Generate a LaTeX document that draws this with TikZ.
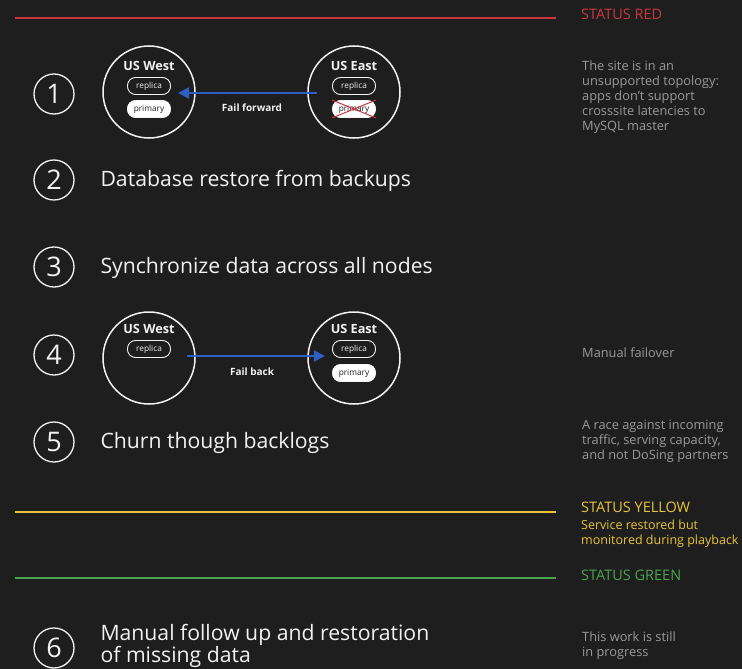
\documentclass[tikz,border=0pt]{standalone}
\usepackage{fontspec}
\setmainfont{Open Sans}
\usetikzlibrary{arrows.meta}
\definecolor{bg}{HTML}{1E1E1E}
\definecolor{sred}{HTML}{C9363F}
\definecolor{syellow}{HTML}{E8C43A}
\definecolor{sgreen}{HTML}{4CA34E}
\definecolor{note}{HTML}{9A9A9A}
\definecolor{arrowblue}{HTML}{2E5FC4}
\definecolor{fg}{HTML}{F2F2F2}
\begin{document}
\begin{tikzpicture}[x=1pt,y=-1pt,
  numcirc/.style={circle,draw=fg,line width=1.3pt,minimum size=40pt,inner sep=0pt,text=fg,font=\fontsize{27}{27}\selectfont},
  steptext/.style={anchor=west,text=fg,font=\fontsize{21.2}{22.5}\selectfont,align=left},
  site/.style={circle,draw=fg,line width=1.5pt,minimum size=92pt,inner sep=0pt},
  sitelabel/.style={text=fg,font=\bfseries\fontsize{12.7}{13}\selectfont},
  pill/.style={rounded corners=8pt,draw=fg,line width=0.9pt,minimum width=43pt,minimum height=17pt,inner sep=0pt,text=fg,font=\fontsize{8.3}{9}\selectfont},
  pillfill/.style={pill,fill=white,text=bg},
  failarrow/.style={draw=arrowblue,line width=2pt,-{Triangle[length=11pt,width=11pt]}},
  faillabel/.style={text=fg,font=\bfseries\fontsize{10}{11}\selectfont},
  notetext/.style={anchor=north west,text=note,font=\fontsize{12.8}{15}\selectfont,align=left,inner sep=0pt},
  statustext/.style={anchor=west,font=\fontsize{14.5}{15}\selectfont,inner sep=0pt},
  statusline/.style={line width=2pt}]
\fill[bg] (0,0) rectangle (742,669);
\useasboundingbox (0,0) rectangle (742,669);

% status red
\coordinate (r1) at (15,18); \coordinate (r2) at (556,18);
\draw[statusline,sred] (r1) -- (r2);
\node[statustext,text=sred] (sred) at (581,14) {STATUS RED};

% step 1
\node[numcirc] (n1) at (54,94) {1};
\node[site] (w1) at (149,92) {};
\node[sitelabel] (w1l) at (149,66) {US West};
\node[pill] (w1r) at (149,86) {replica};
\node[pillfill] (w1p) at (149,109) {primary};
\node[site] (e1) at (354,92) {};
\node[sitelabel] (e1l) at (354,66) {US East};
\node[pill] (e1r) at (354,86) {replica};
\node[pillfill] (e1p) at (354,109) {primary};
\draw[sred,line width=1pt] (e1p.north west) -- (e1p.south east);
\draw[sred,line width=1pt] (e1p.south west) -- (e1p.north east);
\coordinate (a1s) at (317,93); \coordinate (a1e) at (178,93);
\draw[failarrow] (a1s) -- (a1e);
\node[faillabel] (ff) at (252,108) {Fail forward};
\node[notetext] (note1) at (582,61) {The site is in an\\unsupported topology:\\apps don’t support\\crosssite latencies to\\MySQL master};

% step 2
\node[numcirc] (n2) at (54,180) {2};
\node[steptext] (t2) at (97,181) {Database restore from backups};

% step 3
\node[numcirc] (n3) at (54,267) {3};
\node[steptext] (t3) at (97,268) {Synchronize data across all nodes};

% step 4
\node[numcirc] (n4) at (54,355) {4};
\node[site] (w4) at (149,358) {};
\node[sitelabel] (w4l) at (149,329) {US West};
\node[pill] (w4r) at (149,349) {replica};
\node[site] (e4) at (354,358) {};
\node[sitelabel] (e4l) at (354,329) {US East};
\node[pill] (e4r) at (354,349) {replica};
\node[pillfill] (e4p) at (354,373) {primary};
\coordinate (a4s) at (187,356); \coordinate (a4e) at (325,356);
\draw[failarrow] (a4s) -- (a4e);
\node[faillabel] (fb) at (252,372) {Fail back};
\node[notetext] (note4) at (582,348) {Manual failover};

% step 5
\node[numcirc] (n5) at (54,442) {5};
\node[steptext] (t5) at (97,443) {Churn though backlogs};
\node[notetext] (note5) at (582,420) {A race against incoming\\traffic, serving capacity,\\and not DoSing partners};

% status yellow
\coordinate (y1) at (15,512); \coordinate (y2) at (556,512);
\draw[statusline,syellow] (y1) -- (y2);
\node[statustext,text=syellow] (syel) at (581,507) {STATUS YELLOW};
\node[notetext,text=syellow,font=\fontsize{12.5}{15}\selectfont] (ynote) at (581,520) {Service restored but\\monitored during playback};

% status green
\coordinate (g1) at (15,578); \coordinate (g2) at (556,578);
\draw[statusline,sgreen] (g1) -- (g2);
\node[statustext,text=sgreen] (sgrn) at (581,575) {STATUS GREEN};

% step 6
\node[numcirc] (n6) at (54,648) {6};
\node[steptext] (t6) at (97,646) {Manual follow up and restoration\\of missing data};
\node[notetext] (note6) at (582,632) {This work is still\\in progress};
\end{tikzpicture}
\end{document}
